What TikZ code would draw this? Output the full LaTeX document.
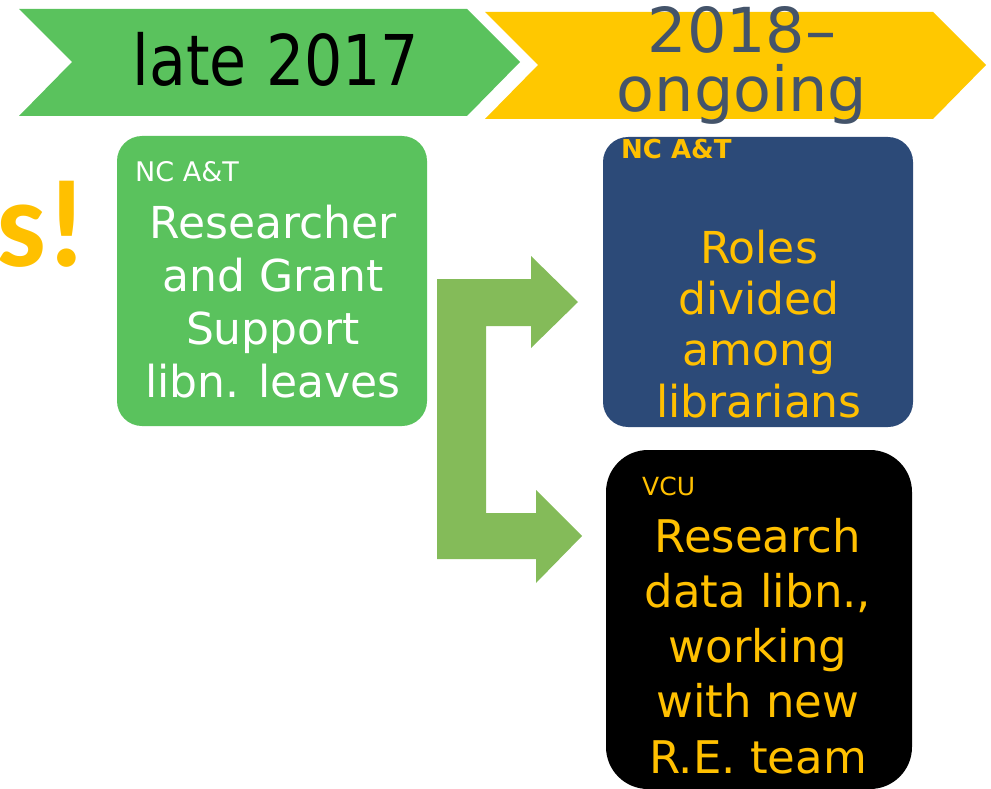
\documentclass[tikz,border=0pt]{standalone}
\usepackage{fontspec}
\usepackage{graphicx}
\setmainfont{DejaVu Sans}
\newfontfamily\carlitofont{Carlito}
\definecolor{leafgreen}{RGB}{90,194,93}
\definecolor{arrowgreen}{RGB}{132,187,89}
\definecolor{bannergold}{RGB}{255,200,0}
\definecolor{textgold}{RGB}{255,192,0}
\definecolor{navy}{RGB}{44,74,120}
\definecolor{slate}{RGB}{68,84,106}
\tikzset{
  card/.style={rounded corners=25pt, minimum width=310pt, minimum height=290pt, inner sep=0pt, draw=none},
  tag/.style={anchor=base west, inner sep=0pt},
  % multi-line texts are placed by the baseline of their last line
  body/.style={anchor=base, inner sep=0pt, align=center},
}
\begin{document}
\begin{tikzpicture}[x=1pt,y=-1pt]
\useasboundingbox (0,0) rectangle (991,789);

% timeline banners
\fill[bannergold] (485,12) -- (933,12) -- (986,65) -- (933,119) -- (485,119) -- (538,65) -- cycle;
\fill[leafgreen] (19,9) -- (467,9) -- (520,62) -- (467,116) -- (19,116) -- (72,62) -- cycle;

% partial heading at the left edge
\node[anchor=base east, inner sep=0pt, text=textgold,
      font=\fontsize{125}{125}\selectfont\carlitofont\bfseries] (exclaim) at (87,266) {s!};

% cards
\node[card, fill=leafgreen] (leaves) at (272,281) {};
\node[card, fill=navy] (roles) at (758,282) {};
\node[card, fill=black, rounded corners=42pt, minimum width=306pt, minimum height=339pt] (vcu) at (759,619.5) {};

% block arrow splitting toward the two outcomes
\fill[arrowgreen] (437,279) -- (531,279) -- (531,256) -- (578,302) -- (531,348) -- (531,326)
  -- (486,326) -- (486,513) -- (536,513) -- (536,490) -- (582,536) -- (536,583) -- (536,559)
  -- (437,559) -- cycle;

% card labels
\node[tag, text=white, font=\fontsize{27}{27}\selectfont] (leavestag) at (135,182) {NC A\&T};
\node[tag, text=textgold, font=\fontsize{26}{26}\selectfont\bfseries] (rolestag) at (621,159) {NC A\&T};
\node[tag, text=textgold, font=\fontsize{25}{25}\selectfont] (vcutag) at (642,495) {VCU};

% card texts
\node[body, text=white, font=\fontsize{44}{53}\selectfont] (leavestext) at (273,397)
  {Researcher\\and Grant\\Support\\libn. leaves};
\node[body, text=textgold, font=\fontsize{44}{51.3}\selectfont] (rolestext) at (759,417)
  {Roles\\divided\\among\\librarians};
\node[body, text=textgold, font=\fontsize{45}{55.2}\selectfont] (vcutext) at (758,773)
  {Research\\data libn.,\\working\\with new\\R.E. team};

% banner texts
\node[anchor=base, inner sep=0pt, font=\fontsize{70}{70}\selectfont] (late) at (276,86)
  {\scalebox{0.86}[1]{late 2017}};
\node[body, text=slate, font=\fontsize{62}{59}\selectfont] (ongoing) at (742,112)
  {2018–\\ongoing};
\end{tikzpicture}
\end{document}
